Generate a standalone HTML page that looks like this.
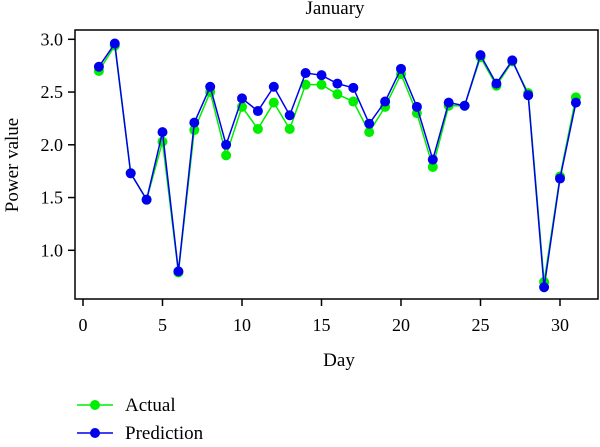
<!DOCTYPE html>
<html><head><meta charset="utf-8"><style>
body{margin:0;background:#fff;width:600px;height:442px;overflow:hidden}
text{font-family:"Liberation Serif",serif;fill:#000}
</style></head><body>
<svg id="chart" width="600" height="442" xmlns="http://www.w3.org/2000/svg">
<text x="335" y="14" font-size="19" text-anchor="middle">January</text>
<rect x="75" y="30" width="523" height="269" fill="none" stroke="#000" stroke-width="1.5"/>
<g id="xticks"></g><g id="yticks"></g><g id="series"></g>
<text x="339" y="366" font-size="19" text-anchor="middle">Day</text>
<text transform="translate(18,165) rotate(-90)" font-size="19" text-anchor="middle">Power value</text>
<g>
<g><line x1="77" y1="405" x2="113" y2="405" stroke="#00ee00" stroke-width="1.5"/><circle cx="95" cy="405" r="5" fill="#00ee00"/><text x="125" y="411" font-size="19">Actual</text></g>
<g><line x1="77" y1="433" x2="113" y2="433" stroke="#0000ee" stroke-width="1.5"/><circle cx="95" cy="433" r="5" fill="#0000ee"/><text x="125" y="439" font-size="19">Prediction</text></g>
</g>
</svg>
<script>
const days=[1,2,3,4,5,6,7,8,9,10,11,12,13,14,15,16,17,18,19,20,21,22,23,24,25,26,27,28,29,30,31];
const actual=[2.70,2.94,1.73,1.48,2.03,0.79,2.14,2.50,1.90,2.36,2.15,2.40,2.15,2.57,2.57,2.48,2.41,2.12,2.36,2.67,2.30,1.79,2.37,2.37,2.83,2.56,2.79,2.49,0.70,1.70,2.45];
const prediction=[2.74,2.96,1.73,1.48,2.12,0.80,2.21,2.55,2.00,2.44,2.32,2.55,2.28,2.68,2.66,2.58,2.54,2.20,2.41,2.72,2.36,1.86,2.40,2.37,2.85,2.58,2.80,2.47,0.65,1.68,2.40];
const xTicks=[0,5,10,15,20,25,30];
const yTicks=[1.0,1.5,2.0,2.5,3.0];
const yTickLabels=["1.0","1.5","2.0","2.5","3.0"];
const NS="http://www.w3.org/2000/svg";
function sx(d){return 83+d*(560-83)/30;}
function sy(v){return 250.3-(v-1)*(250.3-39.3)/2;}
function mk(t,a,p){const e=document.createElementNS(NS,t);for(const k in a)e.setAttribute(k,a[k]);p.appendChild(e);return e;}
const xg=document.getElementById('xticks'),yg=document.getElementById('yticks'),sg=document.getElementById('series');
xTicks.forEach(t=>{
 const l=mk('line',{x1:sx(t),x2:sx(t),y1:299,y2:306,stroke:'#000','stroke-width':1.5},xg);
 
 
 const tx=mk('text',{x:sx(t),y:331,'font-size':18,'text-anchor':'middle'},xg);tx.textContent=t;
 
 
});
yTicks.forEach((t,i)=>{
 const l=mk('line',{x1:68,x2:75,y1:sy(t),y2:sy(t),stroke:'#000','stroke-width':1.5},yg);
 
 
 const tx=mk('text',{x:63,y:sy(t)+6,'font-size':18,'text-anchor':'end'},yg);tx.textContent=yTickLabels[i];
 
 
});
function draw(vals,color,name){
 const pl=mk('polyline',{points:vals.map((v,i)=>sx(days[i])+','+sy(v)).join(' '),fill:'none',stroke:color,'stroke-width':1.5},sg);
 
 
 vals.forEach((v,i)=>{
  const c=mk('circle',{cx:sx(days[i]),cy:sy(v),r:5,fill:color},sg);
  
  
 });
}
draw(actual,'#00ee00','actual');
draw(prediction,'#0000ee','prediction');
</script>
</body></html>
